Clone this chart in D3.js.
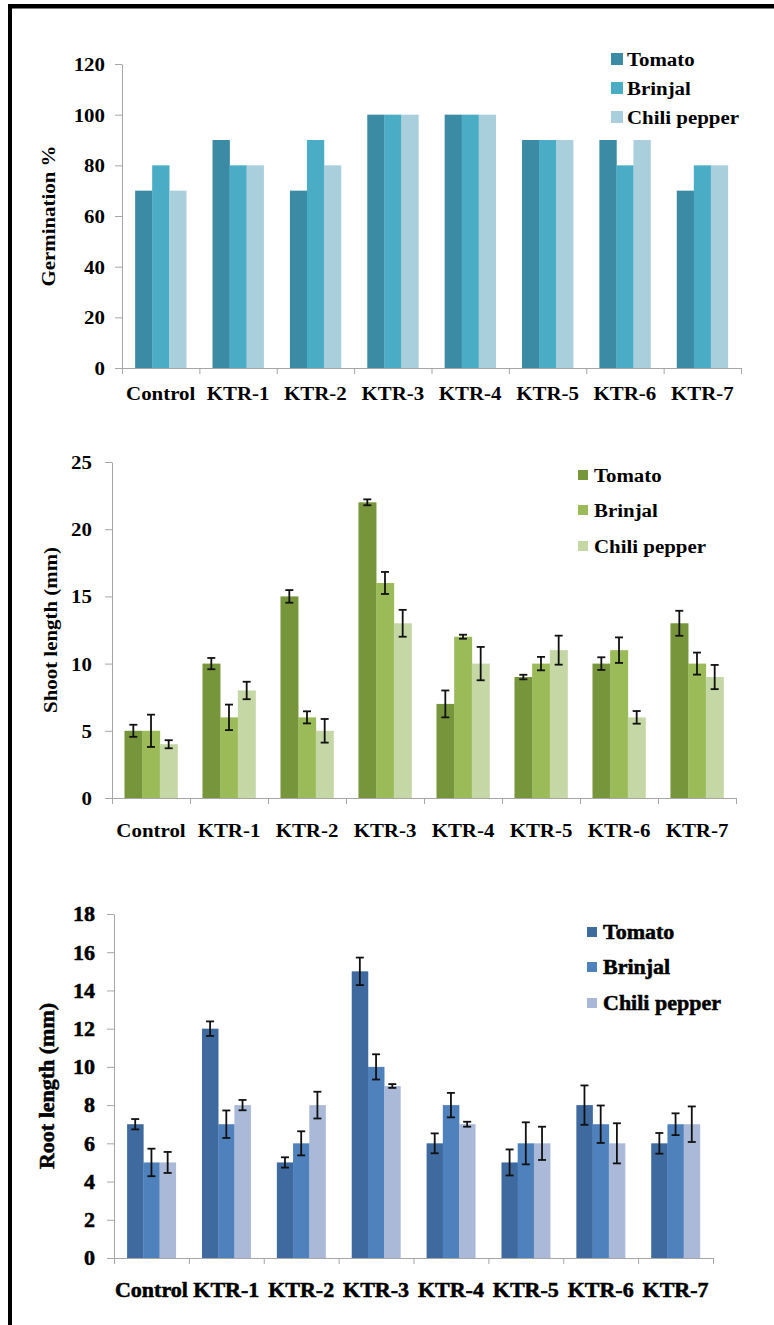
<!DOCTYPE html>
<html>
<head>
<meta charset="utf-8">
<script src="https://cdn.jsdelivr.net/npm/d3@7"></script>
<style>
  html, body { margin: 0; padding: 0; background: #fff; }
  svg { display: block; }
</style>
</head>
<body>
<svg id="fig" width="774" height="1325"></svg>
<script>
// Treatments and crops
const categories = ["Control", "KTR-1", "KTR-2", "KTR-3", "KTR-4", "KTR-5", "KTR-6", "KTR-7"];
const seriesNames = ["Tomato", "Brinjal", "Chili pepper"];

// Germination (%)
const germTomato  = [70, 90, 70, 100, 100, 90, 90, 70];
const germBrinjal = [80, 80, 90, 100, 100, 90, 80, 80];
const germChili   = [70, 80, 80, 100, 100, 90, 90, 80];
const germTicks   = [0, 20, 40, 60, 80, 100, 120];

// Shoot length (mm) with error
const shootTomato     = [5, 10, 15, 22, 7, 9, 10, 13];
const shootTomatoErr  = [0.45, 0.42, 0.47, 0.22, 1.0, 0.17, 0.47, 0.93];
const shootBrinjal    = [5, 6, 6, 16, 12, 10, 11, 10];
const shootBrinjalErr = [1.2, 0.95, 0.45, 0.82, 0.15, 0.5, 0.95, 0.82];
const shootChili      = [4, 8, 5, 13, 10, 11, 6, 9];
const shootChiliErr   = [0.3, 0.65, 0.88, 1.0, 1.24, 1.08, 0.47, 0.9];
const shootTicks      = [0, 5, 10, 15, 20, 25];

// Root length (mm) with error
const rootTomato     = [7, 12, 5, 15, 6, 5, 8, 6];
const rootTomatoErr  = [0.27, 0.38, 0.27, 0.72, 0.52, 0.68, 1.03, 0.54];
const rootBrinjal    = [5, 7, 6, 10, 8, 6, 7, 7];
const rootBrinjalErr = [0.72, 0.72, 0.63, 0.66, 0.64, 1.1, 0.98, 0.57];
const rootChili      = [5, 8, 8, 9, 7, 6, 6, 7];
const rootChiliErr   = [0.55, 0.27, 0.7, 0.1, 0.13, 0.87, 1.05, 0.93];
const rootTicks      = [0, 2, 4, 6, 8, 10, 12, 14, 16, 18];

const FONT = '"Liberation Serif", "Times New Roman", serif';
const SX = 1.1;            // horizontal stretch of lettering
const AXIS_GRAY = "#a6a6a6";

const svg = d3.select("#fig");

// frame
svg.append("rect").attr("x", 8).attr("y", 4).attr("width", 766).attr("height", 4.5).attr("fill", "#000");
svg.append("rect").attr("x", 8).attr("y", 4).attr("width", 4).attr("height", 1321).attr("fill", "#000");

function panel(o) {
  const g = svg.append("g");
  const y = d3.scaleLinear().domain([0, o.yMax]).range([o.y0, o.yTop]);
  const x = d3.scaleBand().domain(categories).range([o.left, o.right])
    .paddingInner(o.pad).paddingOuter(o.pad / 2);
  const xs = d3.scaleBand().domain(seriesNames).range([0, x.bandwidth()]);
  const xb = d3.scaleLinear().domain([0, categories.length]).range([o.left, o.right]);

  const textStyle = sel => sel
    .style("font-family", FONT).style("font-weight", "bold")
    .style("font-size", o.fs + "px").attr("fill", "#000")
    .attr("stroke", o.heavy ? "#000" : null).attr("stroke-width", o.heavy ? 0.5 : null);

  // bars
  o.series.forEach((s, si) => {
    g.append("g").selectAll("rect").data(s.values).join("rect")
      .attr("x", (d, i) => x(categories[i]) + xs(seriesNames[si]))
      .attr("width", xs.bandwidth() + 0.3)
      .attr("y", d => y(d))
      .attr("height", d => o.y0 - y(d))
      .attr("fill", o.colors[si]);
  });

  // y axis
  g.append("g").attr("transform", `translate(${o.left},0)`)
    .call(d3.axisLeft(y).tickValues(o.ticks).tickSize(7).tickSizeOuter(0).tickPadding(0))
    .call(a => {
      a.select(".domain").attr("stroke", AXIS_GRAY);
      a.selectAll(".tick line").attr("stroke", AXIS_GRAY);
      a.selectAll(".tick text").call(textStyle)
        .attr("x", -o.gap / SX).attr("dy", "0.34em").attr("transform", `scale(${SX},1)`);
    });

  // x axis line with boundary ticks
  g.append("g").attr("transform", `translate(0,${o.y0})`)
    .call(d3.axisBottom(xb).tickValues(d3.range(categories.length + 1))
      .tickSize(6).tickSizeOuter(0).tickFormat(""))
    .call(a => {
      a.select(".domain").attr("stroke", AXIS_GRAY);
      a.selectAll(".tick line").attr("stroke", AXIS_GRAY);
    });

  // category labels
  g.append("g").attr("transform", `translate(0,${o.y0})`)
    .call(d3.axisBottom(x).tickSize(0))
    .call(a => {
      a.select(".domain").remove();
      a.selectAll(".tick text").call(textStyle)
        .attr("y", o.labelBase).attr("dy", 0)
        .attr("transform", `scale(${SX},1)`);
    });

  // error bars
  o.series.forEach((s, si) => {
    if (!s.err) return;
    const eg = g.append("g").attr("stroke", "#111").attr("stroke-width", 1.8);
    s.values.forEach((v, i) => {
      const cx = x(categories[i]) + xs(seriesNames[si]) + xs.bandwidth() / 2;
      const yt = y(v + s.err[i]), yb = y(v - s.err[i]);
      eg.append("line").attr("x1", cx).attr("x2", cx).attr("y1", yt).attr("y2", yb);
      eg.append("line").attr("x1", cx - 4).attr("x2", cx + 4).attr("y1", yt).attr("y2", yt);
      eg.append("line").attr("x1", cx - 4).attr("x2", cx + 4).attr("y1", yb).attr("y2", yb);
    });
  });

  // y title
  g.append("text")
    .attr("transform", `translate(${o.titleX},${(o.y0 + o.yTop) / 2}) rotate(-90) scale(${SX},1)`)
    .attr("text-anchor", "middle").attr("dy", "0.35em")
    .text(o.title).call(textStyle);

  // legend
  seriesNames.forEach((name, si) => {
    const cy = o.legendY[si];
    g.append("rect").attr("x", o.legendX).attr("y", cy - o.sq / 2)
      .attr("width", o.sq).attr("height", o.sq).attr("fill", o.colors[si]);
    g.append("text")
      .attr("transform", `translate(${o.legendTextX},${cy}) scale(${SX},1)`)
      .attr("dy", "0.36em").text(name).call(textStyle);
  });
}

panel({
  left: 122, right: 741, yTop: 64, y0: 368, yMax: 120, ticks: germTicks, pad: 0.34,
  gap: 17, labelBase: 32, titleX: 48, title: "Germination %", fs: 19,
  colors: ["#3b8ba5", "#4bacc6", "#a9cfdc"],
  series: [{ values: germTomato }, { values: germBrinjal }, { values: germChili }],
  legendX: 611, sq: 12, legendY: [59, 88, 117], legendTextX: 627
});

panel({
  left: 112, right: 736, yTop: 462, y0: 798, yMax: 25, ticks: shootTicks, pad: 0.32,
  gap: 20, labelBase: 39, titleX: 50, title: "Shoot length (mm)", fs: 19,
  colors: ["#77963c", "#9bbb59", "#c5d7a4"],
  series: [
    { values: shootTomato, err: shootTomatoErr },
    { values: shootBrinjal, err: shootBrinjalErr },
    { values: shootChili, err: shootChiliErr }
  ],
  legendX: 578, sq: 10, legendY: [475, 510, 546], legendTextX: 594
});

panel({
  left: 114, right: 713, yTop: 914, y0: 1258, yMax: 18, ticks: rootTicks, pad: 0.35,
  gap: 19, labelBase: 39, titleX: 47, title: "Root length (mm)", fs: 20, heavy: true,
  colors: ["#3f6a9f", "#4f81bd", "#a9b9d7"],
  series: [
    { values: rootTomato, err: rootTomatoErr },
    { values: rootBrinjal, err: rootBrinjalErr },
    { values: rootChili, err: rootChiliErr }
  ],
  legendX: 587, sq: 10, legendY: [932, 967, 1003], legendTextX: 603
});
</script>
</body>
</html>
